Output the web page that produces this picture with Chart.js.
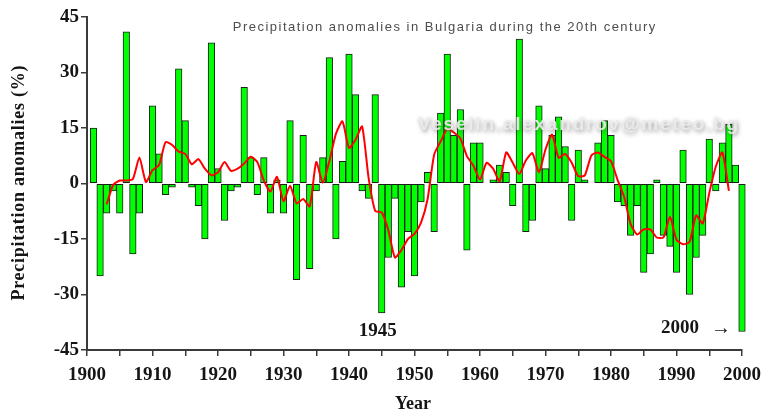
<!DOCTYPE html>
<html>
<head>
<meta charset="utf-8">
<script src="https://cdn.jsdelivr.net/npm/chart.js@4.4.1/dist/chart.umd.min.js"></script>
<style>
  html, body { margin: 0; padding: 0; background: #ffffff; }
  #wrap { width: 765px; height: 412px; position: relative; }
</style>
</head>
<body>
<div id="wrap"><canvas id="c" width="765" height="412"></canvas></div>
<script>
// Annual precipitation anomalies (%) for Bulgaria, 1901-2000
const years = [
  1901, 1902, 1903, 1904, 1905, 1906, 1907, 1908, 1909, 1910,
  1911, 1912, 1913, 1914, 1915, 1916, 1917, 1918, 1919, 1920,
  1921, 1922, 1923, 1924, 1925, 1926, 1927, 1928, 1929, 1930,
  1931, 1932, 1933, 1934, 1935, 1936, 1937, 1938, 1939, 1940,
  1941, 1942, 1943, 1944, 1945, 1946, 1947, 1948, 1949, 1950,
  1951, 1952, 1953, 1954, 1955, 1956, 1957, 1958, 1959, 1960,
  1961, 1962, 1963, 1964, 1965, 1966, 1967, 1968, 1969, 1970,
  1971, 1972, 1973, 1974, 1975, 1976, 1977, 1978, 1979, 1980,
  1981, 1982, 1983, 1984, 1985, 1986, 1987, 1988, 1989, 1990,
  1991, 1992, 1993, 1994, 1995, 1996, 1997, 1998, 1999, 2000
];
const anomalies = [
   15, -25,  -8,  -2,  -8,  41, -19,  -8,   0,  21,
    8,  -3,  -1,  31,  17,  -1,  -6, -15,  38,   4,
  -10,  -2,  -1,  26,   7,  -3,   7,  -8,   1,  -8,
   17, -26,  13, -23,  -2,   7,  34, -15,   6,  35,
   24,  -2,  -4,  24, -35, -20,  -4, -28, -13, -25,
   -5,   3, -13,  19,  35,  13,  20, -18,  11,  11,
    0,   1,   5,   3,  -6,  39, -13, -10,  21,   4,
   13,  18,  10, -10,   9,   1,   0,  11,  17,  13,
   -5,  -6, -14,  -6, -24, -19,   1, -14, -17, -24,
    9, -30, -20, -14,  12,  -2,  11,  16,   5, -40
];

// 5-year running mean curve (red)
const smoothYears = [
  1903, 1904, 1905, 1906, 1907, 1908, 1909, 1910, 1911, 1912,
  1913, 1914, 1915, 1916, 1917, 1918, 1919, 1920, 1921, 1922,
  1923, 1924, 1925, 1926, 1927, 1928, 1929, 1930, 1931, 1932,
  1933, 1934, 1935, 1936, 1937, 1938, 1939, 1940, 1941, 1942,
  1943, 1944, 1945, 1946, 1947, 1948, 1949, 1950, 1951, 1952,
  1953, 1954, 1955, 1956, 1957, 1958, 1959, 1960, 1961, 1962,
  1963, 1964, 1965, 1966, 1967, 1968, 1969, 1970, 1971, 1972,
  1973, 1974, 1975, 1976, 1977, 1978, 1979, 1980, 1981, 1982,
  1983, 1984, 1985, 1986, 1987, 1988, 1989, 1990, 1991, 1992,
  1993, 1994, 1995, 1996, 1997, 1998
];
const smoothed = [
   -5.6, -0.4,  0.8,  0.8,  1.2,  7.0,  0.4,  3.6,  5.0, 11.2,
   10.4,  8.6,  8.0,  5.2,  6.6,  4.0,  2.2,  3.0,  5.8,  3.4,
    4.0,  5.4,  7.2,  5.8,  0.8, -2.2,  1.8, -4.8, -0.6, -5.4,
   -4.2, -6.2,  5.8,  0.2,  6.0, 13.4, 16.8,  9.6, 11.8, 15.4,
    1.4, -7.4, -7.8,-12.6,-20.0,-18.0,-15.0,-13.6,-10.6, -4.2,
    7.8, 11.4, 14.8, 13.8, 12.2,  7.4,  4.8,  1.0,  5.6,  4.0,
    0.6,  8.4,  5.6,  2.6,  6.2,  8.2,  3.0,  9.2, 13.2,  7.0,
    8.0,  5.6,  2.0,  2.2,  7.6,  8.4,  7.2,  6.0,  1.0, -3.6,
  -11.0,-13.8,-12.4,-12.4,-14.6,-14.6, -9.0,-15.2,-16.4,-15.8,
   -8.6,-10.8, -2.6,  4.6,  8.4, -2.0
];

const yTicks = [-45, -30, -15, 0, 15, 30, 45];
const xLabelYears = [1900, 1910, 1920, 1930, 1940, 1950, 1960, 1970, 1980, 1990, 2000];
const xMinorYears = [1905, 1915, 1925, 1935, 1945, 1955, 1965, 1975, 1985, 1995];

const chartTitle = 'Precipitation anomalies in Bulgaria during the 20th century';
const yTitle = 'Precipitation anomalies (%)';
const xTitle = 'Year';
const creditLine = 'Veselin.alexandrov@meteo.bg';
const yearNotes = [
  { year: 1945, value: -35, text: '1945' },
  { year: 2000, value: -40, text: '2000' }
];

const SERIF = '"Liberation Serif", "Times New Roman", serif';
const SANS = '"Liberation Sans", Arial, sans-serif';
const INK = '#151515';
const AXIS = '#3a3a3a';

// Draw text centred at (cx, cy), spreading letters so it spans the given width
function spreadText(ctx, text, cx, cy, width) {
  ctx.letterSpacing = '0px';
  const natural = ctx.measureText(text).width;
  const gap = (width - natural) / text.length;
  ctx.letterSpacing = gap.toFixed(2) + 'px';
  ctx.fillText(text, cx + gap / 2, cy);
  ctx.letterSpacing = '0px';
}

const decorations = {
  id: 'decorations',
  afterDatasetsDraw(chart) {
    const ctx = chart.ctx;
    const xs = chart.scales.x, ys = chart.scales.y;

    // e-mail credit with a soft embossed shadow
    ctx.save();
    ctx.font = 'bold 19px ' + SANS;
    ctx.textAlign = 'center';
    ctx.textBaseline = 'middle';
    ctx.shadowColor = 'rgba(70,70,70,0.6)';
    ctx.shadowBlur = 4;
    ctx.shadowOffsetX = 1;
    ctx.shadowOffsetY = 2;
    ctx.fillStyle = 'rgba(236,236,236,0.9)';
    spreadText(ctx, creditLine, 578, 125, 322);
    ctx.restore();

    // year call-outs under the driest bars
    ctx.save();
    ctx.font = 'bold 19px ' + SERIF;
    ctx.fillStyle = INK;
    ctx.textBaseline = 'middle';
    ctx.textAlign = 'center';
    const n0 = yearNotes[0];
    ctx.fillText(n0.text, xs.getPixelForValue(n0.year) - 4, ys.getPixelForValue(n0.value) + 18);
    const n1 = yearNotes[1];
    const ax = xs.getPixelForValue(n1.year);
    const ay = ys.getPixelForValue(n1.value) - 3;
    ctx.textAlign = 'right';
    ctx.fillText(n1.text, ax - 43, ay);
    ctx.textAlign = 'left';
    ctx.font = '20px ' + SERIF;
    ctx.fillText('\u2192', ax - 31, ay);
    ctx.restore();
  },
  afterDraw(chart) {
    const ctx = chart.ctx;
    ctx.save();
    ctx.textAlign = 'center';
    ctx.textBaseline = 'middle';

    // caption inside the plot
    ctx.font = '13px ' + SANS;
    ctx.fillStyle = '#4d4d4d';
    spreadText(ctx, chartTitle, 444, 27, 424);

    // axis titles
    ctx.font = 'bold 18px ' + SERIF;
    ctx.fillStyle = INK;
    ctx.fillText(xTitle, 413, 404);
    ctx.translate(19, 183);
    ctx.rotate(-Math.PI / 2);
    spreadText(ctx, yTitle, 0, 0, 236);
    ctx.restore();
  }
};

const tickFont = { family: SERIF, size: 19, weight: 'bold' };

new Chart(document.getElementById('c'), {
  type: 'bar',
  data: {
    datasets: [
      {
        type: 'line',
        data: smoothYears.map((yr, i) => ({ x: yr, y: smoothed[i] })),
        borderColor: '#ff0000',
        borderWidth: 2,
        pointRadius: 0,
        tension: 0.2,
        fill: false,
        order: 1
      },
      {
        type: 'bar',
        data: years.map((yr, i) => ({ x: yr, y: anomalies[i] })),
        backgroundColor: '#00ff00',
        borderColor: '#1c1c1c',
        borderWidth: 1,
        borderSkipped: false,
        barPercentage: 1,
        categoryPercentage: 1,
        clip: false,
        order: 2
      }
    ]
  },
  options: {
    responsive: false,
    devicePixelRatio: 1,
    animation: false,
    layout: { padding: { top: 17, right: 23, left: 0, bottom: 0 } },
    plugins: { legend: { display: false }, tooltip: { enabled: false } },
    scales: {
      x: {
        type: 'linear',
        min: 1900,
        max: 2000,
        offset: false,
        grid: { display: true, offset: false, drawOnChartArea: false, drawTicks: true, tickLength: 6, color: AXIS, lineWidth: 1.5 },
        border: { display: true, color: AXIS, width: 2 },
        ticks: {
          autoSkip: false,
          maxRotation: 0,
          padding: 8,
          color: INK,
          font: tickFont,
          callback: (v) => (xLabelYears.includes(v) ? String(v) : '')
        },
        afterBuildTicks: (s) => {
          s.ticks = xLabelYears.concat(xMinorYears).sort((a, b) => a - b).map((v) => ({ value: v }));
        },
        afterFit: (s) => {
          s.height = 62;
          s.paddingLeft = 0;
          s.paddingRight = 0;
        }
      },
      y: {
        min: -45,
        max: 45,
        grid: { display: true, drawOnChartArea: false, drawTicks: true, tickLength: 6, color: AXIS, lineWidth: 1.5 },
        border: { display: true, color: AXIS, width: 2 },
        ticks: {
          padding: 2,
          color: INK,
          font: tickFont,
          callback: (v) => String(v)
        },
        afterBuildTicks: (s) => { s.ticks = yTicks.map((v) => ({ value: v })); },
        afterFit: (s) => {
          s.width = 87;
          s.paddingTop = 0;
          s.paddingBottom = 0;
        }
      }
    }
  },
  plugins: [decorations]
});
</script>
</body>
</html>
